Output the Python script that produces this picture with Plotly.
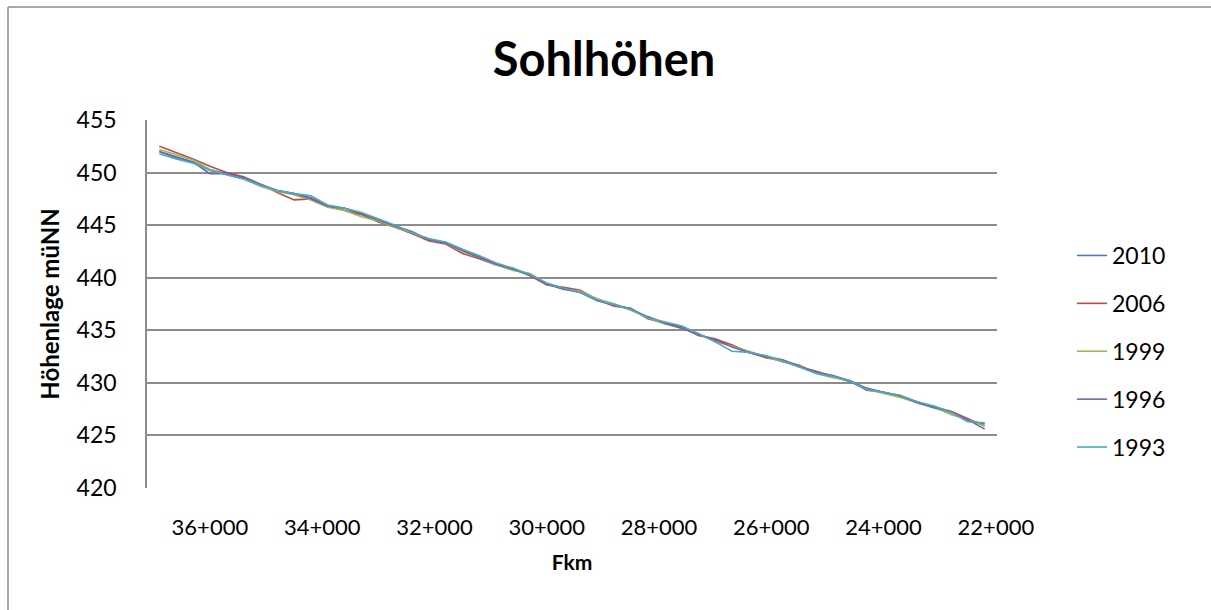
import plotly.graph_objects as go

km = [36.9, 36.6, 36.3, 36.0, 35.7, 35.4, 35.1, 34.8, 34.5, 34.2,
      33.9, 33.6, 33.3, 33.0, 32.7, 32.4, 32.1, 31.8, 31.5, 31.2,
      30.9, 30.6, 30.3, 30.0, 29.7, 29.4, 29.1, 28.8, 28.5, 28.2,
      27.9, 27.6, 27.3, 27.0, 26.7, 26.4, 26.1, 25.8, 25.5, 25.2,
      24.9, 24.6, 24.3, 24.0, 23.7, 23.4, 23.1, 22.8, 22.5, 22.2]

y2010 = [452.0, 451.5, 451.0, 450.3, 449.9, 449.5, 448.8, 448.3, 448.0, 447.6,
         446.9, 446.6, 446.1, 445.5, 444.9, 444.2, 443.7, 443.3, 442.6, 442.0,
         441.3, 440.8, 440.2, 439.4, 439.0, 438.6, 437.9, 437.5, 437.0, 436.2,
         435.7, 435.4, 434.6, 434.0, 433.6, 432.9, 432.5, 432.0, 431.6, 431.0,
         430.6, 430.1, 429.4, 429.1, 428.7, 428.1, 427.6, 427.2, 426.4, 426.1]
y2006 = [452.5, 451.9, 451.3, 450.6, 450.0, 449.6, 448.9, 448.1, 447.4, 447.5,
         446.8, 446.4, 446.0, 445.3, 444.8, 444.2, 443.5, 443.2, 442.3, 441.8,
         441.2, 440.9, 440.2, 439.3, 439.1, 438.8, 437.9, 437.3, 437.1, 436.1,
         435.7, 435.3, 434.5, 434.2, 433.6, 432.9, 432.4, 432.1, 431.5, 431.1,
         430.6, 430.2, 429.3, 429.1, 428.7, 428.2, 427.7, 427.3, 426.6, 425.9]
y1999 = [452.2, 451.7, 451.2, 450.3, 449.8, 449.4, 448.7, 448.2, 447.9, 447.4,
         446.7, 446.4, 445.8, 445.4, 444.8, 444.3, 443.6, 443.3, 442.5, 441.9,
         441.2, 440.7, 440.4, 439.4, 438.9, 438.7, 438.0, 437.5, 436.9, 436.2,
         435.6, 435.2, 434.7, 433.9, 433.5, 433.0, 432.5, 432.0, 431.7, 430.9,
         430.5, 430.2, 429.4, 429.0, 428.6, 428.1, 427.7, 427.0, 426.5, 425.9]
y1996 = [452.0, 451.4, 451.0, 449.9, 449.9, 449.5, 448.9, 448.3, 448.0, 447.5,
         446.8, 446.6, 446.1, 445.5, 444.9, 444.4, 443.6, 443.3, 442.6, 441.9,
         441.3, 440.8, 440.3, 439.4, 438.9, 438.6, 437.8, 437.4, 437.0, 436.3,
         435.7, 435.2, 434.6, 434.1, 433.4, 432.9, 432.5, 432.2, 431.6, 431.0,
         430.7, 430.2, 429.5, 429.1, 428.8, 428.1, 427.7, 427.2, 426.5, 425.6]
y1993 = [451.8, 451.3, 450.9, 450.2, 449.8, 449.4, 448.8, 448.3, 448.0, 447.8,
         446.9, 446.6, 446.2, 445.6, 445.0, 444.3, 443.7, 443.4, 442.7, 442.1,
         441.4, 440.9, 440.3, 439.5, 439.0, 438.6, 437.9, 437.4, 437.0, 436.2,
         435.8, 435.4, 434.7, 433.9, 433.0, 432.9, 432.6, 432.1, 431.5, 430.9,
         430.6, 430.2, 429.4, 429.1, 428.8, 428.2, 427.8, 427.2, 426.3, 426.2]

series_names = ["2010", "2006", "1999", "1996", "1993"]
series_values = [y2010, y2006, y1999, y1996, y1993]
colors = ["#4A7EBB", "#BE4B48", "#98B954", "#7D60A0", "#46AAC5"]

x_tickvals = [36, 34, 32, 30, 28, 26, 24, 22]
x_ticktext = ["36+000", "34+000", "32+000", "30+000", "28+000", "26+000", "24+000", "22+000"]
y_tickvals = [420, 425, 430, 435, 440, 445, 450, 455]

FONT = "Lato"

fig = go.Figure()
for name, vals, col in zip(series_names, series_values, colors):
    fig.add_trace(go.Scatter(x=km, y=vals, mode="lines", name=name,
                             legendgroup=name,
                             line=dict(color=col, width=1.6)))

W, H = 1211, 610
L, R, T, B = 147, 997, 120, 488
pw, ph = R - L, B - T

def px2paper_x(px):
    return (px - L) / pw

def py2paper_y(py):
    return (B - py) / ph

fig.update_layout(
    width=W, height=H,
    margin=dict(l=L, r=W - R, t=T, b=H - B),
    paper_bgcolor="white", plot_bgcolor="white",
    font=dict(family=FONT, color="black"),
    title=dict(text="<b>Sohlhöhen</b>", x=604 / W, xanchor="center",
               y=1 - 60 / H, yanchor="middle",
               font=dict(size=47, family=FONT, color="black")),
    showlegend=True,
    legend=dict(x=px2paper_x(1072), y=py2paper_y(234), xanchor="left", yanchor="top",
                font=dict(size=23, family=FONT, color="black"),
                tracegroupgap=15, bgcolor="rgba(0,0,0,0)", itemwidth=30),
    xaxis=dict(range=[37.12, 21.98], tickvals=x_tickvals, ticktext=x_ticktext,
               showgrid=False, zeroline=False, showline=False,
               ticks="", ticklabelstandoff=24,
               tickfont=dict(size=22, family=FONT, color="black"),
               title=dict(text="<b>Fkm</b>", font=dict(size=21, family=FONT, color="black"),
                          standoff=16)),
    yaxis=dict(range=[420, 455], tickvals=y_tickvals,
               showgrid=True, gridcolor="#8C8C8C", gridwidth=2,
               zeroline=False, showline=True, linecolor="#8C8C8C", linewidth=1.5,
               ticks="", ticklabelstandoff=24,
               tickfont=dict(size=23, family=FONT, color="black"),
               title=dict(text="<b>Höhenlage müNN</b>", font=dict(size=24, family=FONT, color="black"),
                          standoff=10)),
    shapes=[
        dict(type="line", xref="paper", yref="paper",
             x0=px2paper_x(8), x1=px2paper_x(1211), y0=py2paper_y(7), y1=py2paper_y(7),
             line=dict(color="#8C8C8C", width=1.5)),
        dict(type="line", xref="paper", yref="paper",
             x0=px2paper_x(8), x1=px2paper_x(8), y0=py2paper_y(7), y1=py2paper_y(610),
             line=dict(color="#8C8C8C", width=1.5)),
    ],
)

fig.write_html("out.html")
